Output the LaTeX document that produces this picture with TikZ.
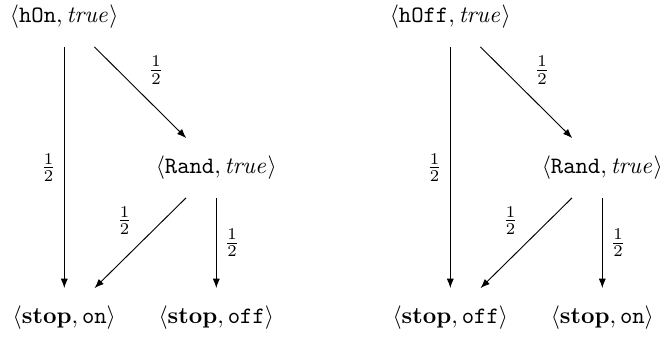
\documentclass[tikz,border=0pt]{standalone}
\usetikzlibrary{arrows.meta}
\begin{document}
\begin{tikzpicture}[x=0.4255pt,y=-0.4255pt,
  st/.style={inner xsep=2pt, inner ysep=0pt, minimum height=25pt},
  tr/.style={-{Latex[length=4pt,width=3pt]}, line width=0.4pt},
  lb/.style={inner sep=3.3pt}]
\useasboundingbox (0,0) rectangle (666,338);
% left graph
\node[st] (hon) at (64.3,17) {$\langle\texttt{hOn}, \mathit{true}\rangle$};
\node[st] (randa) at (216.3,168) {$\langle\texttt{Rand}, \mathit{true}\rangle$};
\node[st] (stopona) at (64.3,318) {$\langle\textbf{stop}, \texttt{on}\rangle$};
\node[st] (stopoffa) at (216.3,318) {$\langle\textbf{stop}, \texttt{off}\rangle$};
\draw[tr] (hon) -- node[lb, left] {$\frac{1}{2}$} (stopona);
\draw[tr] (hon) -- node[lb, above right] {$\frac{1}{2}$} (randa);
\draw[tr] (randa) -- node[lb, above left] {$\frac{1}{2}$} (stopona);
\draw[tr] (randa) -- node[lb, right] {$\frac{1}{2}$} (stopoffa);
% right graph
\node[st] (hoff) at (450.3,17) {$\langle\texttt{hOff}, \mathit{true}\rangle$};
\node[st] (randb) at (602.3,168) {$\langle\texttt{Rand}, \mathit{true}\rangle$};
\node[st] (stopoffb) at (450.3,318) {$\langle\textbf{stop}, \texttt{off}\rangle$};
\node[st] (stoponb) at (602.3,318) {$\langle\textbf{stop}, \texttt{on}\rangle$};
\draw[tr] (hoff) -- node[lb, left] {$\frac{1}{2}$} (stopoffb);
\draw[tr] (hoff) -- node[lb, above right] {$\frac{1}{2}$} (randb);
\draw[tr] (randb) -- node[lb, above left] {$\frac{1}{2}$} (stopoffb);
\draw[tr] (randb) -- node[lb, right] {$\frac{1}{2}$} (stoponb);
\end{tikzpicture}
\end{document}
